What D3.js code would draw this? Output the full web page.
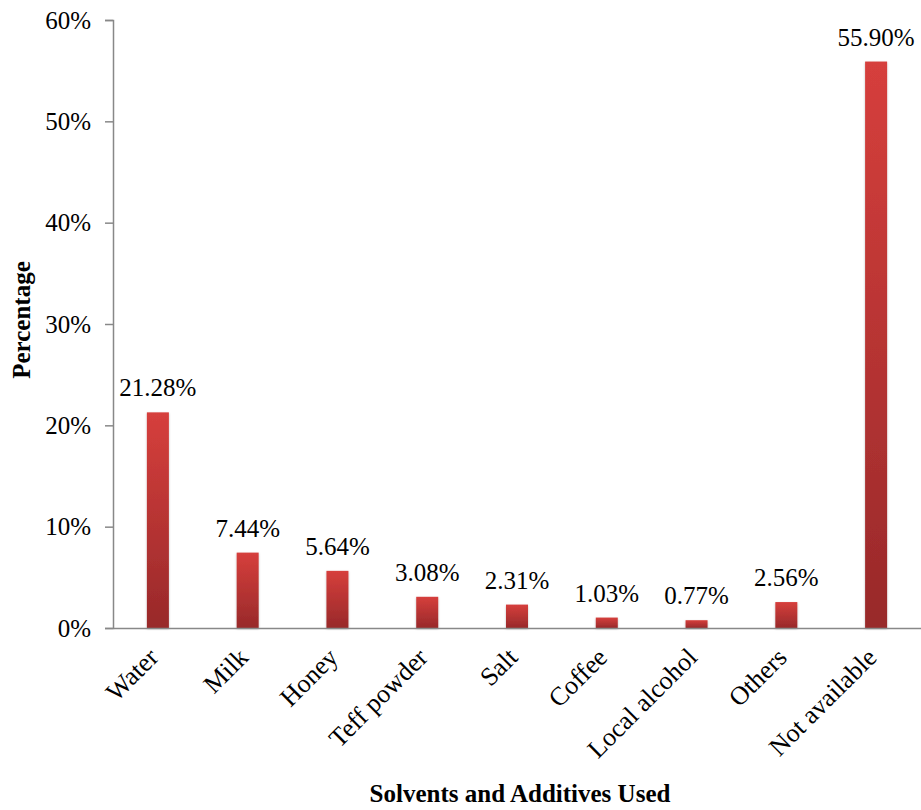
<!DOCTYPE html>
<html><head><meta charset="utf-8">
<script src="https://cdn.jsdelivr.net/npm/d3@7"></script>
<style>body{margin:0;background:#fff}</style>
</head><body>
<svg id="c" width="921" height="810"></svg>
<script>
const categories = ["Water","Milk","Honey","Teff powder","Salt","Coffee","Local alcohol","Others","Not available"];
const values = [21.28, 7.44, 5.64, 3.08, 2.31, 1.03, 0.77, 2.56, 55.90];
const labels = ["21.28%","7.44%","5.64%","3.08%","2.31%","1.03%","0.77%","2.56%","55.90%"];
const yTicks = [0,10,20,30,40,50,60];

(function(){
const svg = d3.select("#c");
const font = "Liberation Serif, Times New Roman, serif";
const fs = 25;
const mLeft = 113, mRight = 921, mTop = 20, mBottom = 628;

const x = d3.scaleBand().domain(categories).range([mLeft, mRight]).paddingInner(0).paddingOuter(0);
const y = d3.scaleLinear().domain([0, 60]).range([mBottom, mTop]);

const defs = svg.append("defs");
const g = defs.append("linearGradient").attr("id","bg").attr("x1",0).attr("y1",0).attr("x2",0).attr("y2",1);
g.append("stop").attr("offset","0%").attr("stop-color","#d63f3c");
g.append("stop").attr("offset","100%").attr("stop-color","#98292a");
const f = defs.append("filter").attr("id","sh").attr("x","-30%").attr("y","-10%").attr("width","160%").attr("height","130%");
f.append("feDropShadow").attr("dx",0).attr("dy",1).attr("stdDeviation",1.2).attr("flood-color","#000").attr("flood-opacity",0.25);

const bw = 22;
svg.append("g").selectAll("rect").data(categories).join("rect")
  .attr("x", (d) => x(d) + x.bandwidth()/2 - bw/2)
  .attr("y", (d,i) => y(values[i]))
  .attr("width", bw)
  .attr("height", (d,i) => y(0) - y(values[i]))
  .attr("fill", "url(#bg)")
  .attr("filter", "url(#sh)");

const yAxis = d3.axisLeft(y).tickValues(yTicks).tickFormat(d => d + "%").tickSize(8).tickPadding(14);
const ya = svg.append("g").attr("transform", `translate(${mLeft},0)`).call(yAxis);
ya.attr("font-family", font).attr("font-size", fs);
ya.select(".domain").attr("stroke","#888").attr("stroke-width",1.5);
ya.selectAll(".tick line").attr("stroke","#888").attr("stroke-width",1.5);
ya.selectAll(".tick text").attr("fill","#000");

const xAxis = d3.axisBottom(x).tickSize(0).tickPadding(0);
const xa = svg.append("g").attr("transform", `translate(0,${mBottom})`).call(xAxis);
xa.attr("font-family", font).attr("font-size", 26);
xa.select(".domain").attr("stroke","#888").attr("stroke-width",1.5);
xa.selectAll(".tick text")
  .attr("fill","#000")
  .attr("text-anchor","end")
  .attr("dy",0).attr("y",0)
  .attr("transform","translate(2,31) rotate(-45)");

svg.append("g").attr("font-family", font).attr("font-size", fs)
  .selectAll("text").data(categories).join("text")
  .attr("x", d => x(d) + x.bandwidth()/2)
  .attr("y", (d,i) => y(values[i]) - 16)
  .attr("text-anchor","middle")
  .attr("fill","#000")
  .text((d,i) => labels[i]);

svg.append("text").attr("transform",`translate(30,320) rotate(-90)`)
  .attr("text-anchor","middle").attr("font-family",font).attr("font-size",fs).attr("font-weight","bold")
  .text("Percentage");
svg.append("text").attr("x",520).attr("y",802)
  .attr("text-anchor","middle").attr("font-family",font).attr("font-size",fs).attr("font-weight","bold")
  .text("Solvents and Additives Used");
})();
</script>
</body></html>
